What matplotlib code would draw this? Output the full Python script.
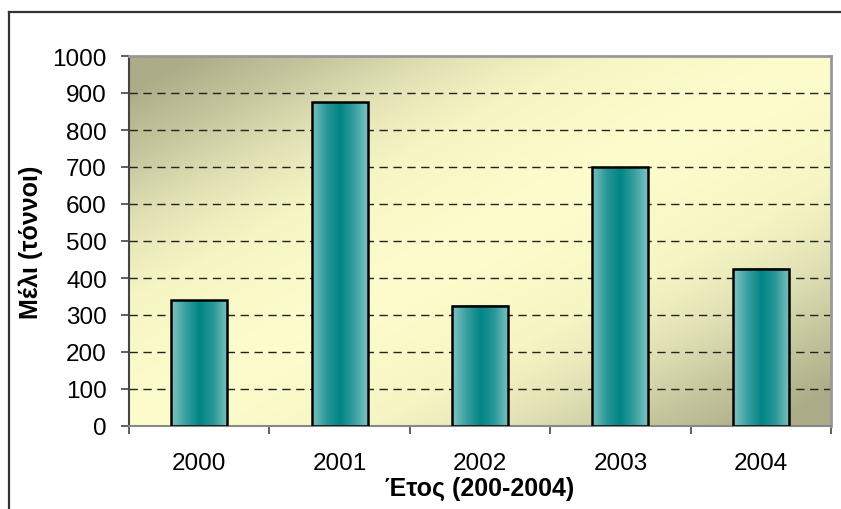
import matplotlib.pyplot as plt
from matplotlib.colors import LinearSegmentedColormap
from matplotlib.lines import Line2D
import numpy as np

plt.rcParams['font.family'] = ['Liberation Sans', 'DejaVu Sans']

# δεδομένα
years = ['2000', '2001', '2002', '2003', '2004']
honey = [340, 875, 325, 700, 425]
y_ticks = [0, 100, 200, 300, 400, 500, 600, 700, 800, 900, 1000]
x_title = 'Έτος (200-2004)'
y_title = 'Μέλι (τόννοι)'

fig = plt.figure(figsize=(8.41, 5.10), dpi=100)
# εξωτερικό πλαίσιο (κομμένο δεξιά και κάτω)
fx, fy = 8.5 / 841, (510 - 12.5) / 510
fig.lines.append(Line2D([fx, 1.01], [fy, fy], transform=fig.transFigure,
                        color='#333333', linewidth=1.6))
fig.lines.append(Line2D([fx, fx], [-0.01, fy], transform=fig.transFigure,
                        color='#333333', linewidth=1.6))

ax = fig.add_axes([129 / 841, (510 - 427) / 510, 702 / 841, 370 / 510])

# φόντο με διαγώνια διαβάθμιση
bg_cmap = LinearSegmentedColormap.from_list('bg', ['#fcfccc', '#f6f6c4', '#e0e0b4', '#c4c49c', '#acac88'])
gx, gy = np.meshgrid(np.linspace(0, 1, 400), np.linspace(1, 0, 220))
grad = np.clip(np.abs(gx - gy) * 1.1, 0, 1) ** 1.4
ax.imshow(grad, cmap=bg_cmap, extent=[0, 1, 0, 1], transform=ax.transAxes,
          aspect='auto', zorder=0, interpolation='bilinear')

# γραμμές πλέγματος
for v in y_ticks[1:-1]:
    ax.axhline(v, color='#222222', linewidth=1.0, linestyle=(0, (6, 4)), zorder=1)

# ράβδοι με διαβάθμιση
bar_cmap = LinearSegmentedColormap.from_list('bar', ['#80c4c4', '#3aa0a0', '#008585', '#2a9898', '#7cc2c2'])
hg = np.tile(np.linspace(0, 1, 100), (50, 1))
w = 0.4
bars = ax.bar(range(len(years)), honey, width=w, facecolor='none',
              edgecolor='black', linewidth=1.8, zorder=3)
for i, b in enumerate(bars):
    src = hg if i % 2 == 0 else hg[:, ::-1]
    ax.imshow(src, cmap=bar_cmap, extent=[b.get_x(), b.get_x() + w, 0, b.get_height()],
              aspect='auto', zorder=2, interpolation='bilinear')
ax.set_xlim(-0.5, len(years) - 0.5)
ax.set_ylim(0, 1000)

# άξονες
ax.set_yticks(y_ticks)
ax.tick_params(axis='y', length=6, width=1.2, color='#444444', pad=10, labelsize=17.5)
ax.set_xticks(range(len(years)))
ax.set_xticklabels(years)
ax.set_xticks(np.arange(-0.5, len(years)), minor=True)
ax.tick_params(axis='x', which='major', length=0, pad=19, labelsize=17.5)
ax.tick_params(axis='x', which='minor', length=6, width=1.2, color='#444444')

for s in ['top', 'right']:
    ax.spines[s].set_color('#999999')
    ax.spines[s].set_linewidth(2)
ax.spines['left'].set_color('#444444')
ax.spines['left'].set_linewidth(1.5)
ax.spines['bottom'].set_color('#888888')
ax.spines['bottom'].set_linewidth(1.5)

ax.set_xlabel(x_title, fontsize=18, fontweight='bold', labelpad=1)
ax.set_ylabel(y_title, fontsize=18, fontweight='bold', labelpad=7)

fig.savefig('out.png', dpi=100)
